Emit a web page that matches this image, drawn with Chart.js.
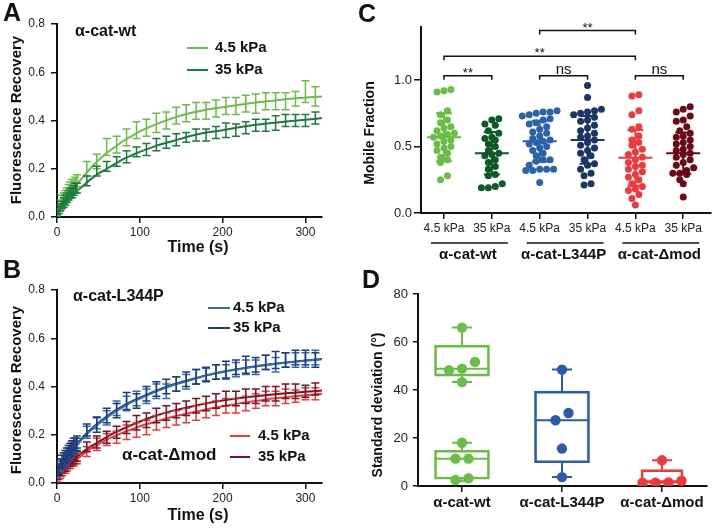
<!DOCTYPE html>
<html><head><meta charset="utf-8">
<script src="https://cdn.jsdelivr.net/npm/chart.js@4.4.1/dist/chart.umd.min.js"></script>
<style>
html,body{margin:0;padding:0;background:#fff}
body{width:715px;height:530px;position:relative;overflow:hidden}
canvas{position:absolute}
</style></head><body>
<canvas id="cA" width="345" height="260" style="left:0px;top:0px"></canvas>
<canvas id="cB" width="345" height="270" style="left:0px;top:260px"></canvas>
<canvas id="cC" width="360" height="266" style="left:355px;top:0px"></canvas>
<canvas id="cD" width="360" height="268" style="left:355px;top:262px"></canvas>
<script>
// ---------------- DATA ----------------
// Panels A/B : FRAP recovery (mean +/- error) and fitted curves
const timeMeas = [0,2,4,6,8,10,12,14,16,18,20,22,24,36,48,60,72,84,96,108,120,132,144,156,168,180,192,204,216,228,240,252,264,276,288,300,312];
const timeFit  = [0,5,10,15,20,25,30,40,50,60,70,80,90,100,120,140,160,180,200,220,240,260,280,300,320];
const timeTicks = [0,100,200,300];

const wt45Mean = [0.02,0.04,0.05,0.07,0.08,0.09,0.10,0.11,0.12,0.13,0.13,0.14,0.15, 0.20,0.23,0.29,0.30,0.33,0.36,0.37,0.39,0.40,0.42,0.43,0.44,0.44,0.45,0.46,0.46,0.47,0.47,0.48,0.48,0.48,0.49,0.52,0.50];
const wt45Err  = [0.015,0.015,0.02,0.02,0.02,0.02,0.02,0.025,0.025,0.025,0.025,0.025,0.025, 0.03,0.03,0.035,0.035,0.035,0.035,0.035,0.04,0.035,0.035,0.035,0.035,0.035,0.035,0.035,0.035,0.035,0.04,0.035,0.035,0.035,0.03,0.045,0.04];
const wt35Mean = [0.02,0.03,0.04,0.05,0.06,0.07,0.08,0.09,0.10,0.10,0.11,0.12,0.12, 0.15,0.19,0.21,0.23,0.25,0.27,0.28,0.30,0.31,0.32,0.33,0.34,0.34,0.35,0.36,0.36,0.37,0.38,0.38,0.39,0.40,0.40,0.40,0.41];
const wt35Err  = [0.01,0.015,0.015,0.015,0.02,0.02,0.02,0.02,0.02,0.02,0.02,0.02,0.02, 0.02,0.02,0.02,0.02,0.025,0.02,0.025,0.025,0.025,0.025,0.02,0.025,0.025,0.025,0.03,0.025,0.025,0.025,0.025,0.03,0.025,0.025,0.025,0.025];
const wt45Fit  = [0.01,0.04,0.065,0.09,0.115,0.14,0.16,0.20,0.235,0.265,0.29,0.315,0.335,0.355,0.385,0.41,0.43,0.445,0.455,0.465,0.475,0.482,0.49,0.495,0.50];
const wt35Fit  = [0.01,0.03,0.05,0.07,0.09,0.11,0.125,0.155,0.18,0.20,0.22,0.24,0.255,0.27,0.295,0.315,0.335,0.35,0.36,0.372,0.382,0.39,0.397,0.403,0.41];

const lp45Mean = [0.04,0.06,0.07,0.08,0.09,0.10,0.11,0.12,0.13,0.14,0.15,0.15,0.16, 0.21,0.25,0.27,0.31,0.33,0.35,0.36,0.38,0.38,0.41,0.42,0.44,0.45,0.46,0.46,0.47,0.48,0.48,0.50,0.49,0.51,0.51,0.51,0.52];
const lp45Err  = [0.02,0.02,0.02,0.02,0.025,0.025,0.025,0.025,0.025,0.025,0.025,0.025,0.025, 0.025,0.025,0.03,0.03,0.03,0.03,0.03,0.03,0.03,0.03,0.03,0.03,0.025,0.03,0.03,0.03,0.03,0.03,0.03,0.03,0.03,0.03,0.03,0.03];
const lp35Mean = [0.05,0.06,0.08,0.09,0.10,0.11,0.12,0.13,0.14,0.15,0.16,0.16,0.17, 0.22,0.24,0.28,0.30,0.34,0.34,0.37,0.39,0.40,0.41,0.43,0.44,0.45,0.46,0.47,0.48,0.49,0.49,0.50,0.51,0.51,0.52,0.52,0.51];
const lp35Err  = [0.02,0.02,0.02,0.025,0.025,0.025,0.025,0.025,0.025,0.025,0.025,0.025,0.025, 0.025,0.03,0.03,0.03,0.035,0.03,0.03,0.03,0.03,0.03,0.03,0.03,0.03,0.03,0.035,0.03,0.035,0.03,0.03,0.035,0.03,0.03,0.03,0.03];
const lp45Fit  = [0.04,0.07,0.095,0.12,0.14,0.16,0.18,0.215,0.245,0.27,0.295,0.315,0.335,0.35,0.38,0.405,0.425,0.445,0.46,0.472,0.483,0.492,0.50,0.507,0.513];
const lp35Fit  = [0.05,0.075,0.10,0.125,0.145,0.165,0.185,0.22,0.25,0.275,0.30,0.32,0.338,0.354,0.383,0.408,0.428,0.446,0.461,0.473,0.484,0.493,0.501,0.508,0.514];

const dm45Mean = [0.02,0.03,0.04,0.05,0.06,0.06,0.07,0.08,0.08,0.09,0.09,0.10,0.10, 0.13,0.16,0.18,0.19,0.21,0.22,0.23,0.25,0.26,0.27,0.28,0.29,0.30,0.31,0.32,0.32,0.33,0.34,0.35,0.35,0.36,0.36,0.37,0.37];
const dm45Err  = [0.015,0.015,0.02,0.02,0.02,0.02,0.02,0.02,0.02,0.02,0.02,0.02,0.02, 0.02,0.025,0.025,0.025,0.03,0.03,0.03,0.03,0.03,0.03,0.03,0.03,0.03,0.03,0.03,0.03,0.03,0.03,0.03,0.03,0.03,0.025,0.025,0.025,0.025];
const dm35Mean = [0.03,0.05,0.05,0.06,0.07,0.07,0.08,0.09,0.09,0.10,0.10,0.11,0.11, 0.15,0.17,0.19,0.21,0.23,0.25,0.26,0.28,0.29,0.30,0.31,0.32,0.33,0.34,0.35,0.35,0.36,0.36,0.37,0.37,0.38,0.38,0.38,0.39];
const dm35Err  = [0.015,0.015,0.02,0.02,0.02,0.02,0.02,0.02,0.02,0.02,0.02,0.02,0.02, 0.02,0.025,0.025,0.025,0.025,0.03,0.03,0.03,0.03,0.03,0.03,0.03,0.03,0.03,0.03,0.03,0.03,0.03,0.03,0.03,0.03,0.03,0.025,0.025];
const dm45Fit  = [0.02,0.04,0.06,0.075,0.09,0.10,0.115,0.14,0.16,0.18,0.195,0.21,0.222,0.235,0.255,0.275,0.29,0.305,0.318,0.33,0.34,0.35,0.357,0.364,0.37];
const dm35Fit  = [0.03,0.05,0.065,0.08,0.095,0.11,0.125,0.15,0.17,0.19,0.21,0.225,0.24,0.255,0.28,0.30,0.315,0.33,0.342,0.352,0.36,0.367,0.373,0.378,0.383];

// Panel C : mobile fraction (individual cells), mean and SD
const stiffLabels = ['4.5 kPa','35 kPa','4.5 kPa','35 kPa','4.5 kPa','35 kPa'];
const groupNames  = ['α-cat-wt','α-cat-L344P','α-cat-Δmod'];
const mfWt45  = [0.93,0.92,0.91,0.77,0.74,0.70,0.68,0.65,0.64,0.62,0.60,0.59,0.58,0.57,0.55,0.54,0.52,0.50,0.49,0.47,0.45,0.42,0.40,0.38,0.28,0.25];
const mfWt35  = [0.71,0.70,0.67,0.66,0.62,0.60,0.57,0.56,0.55,0.52,0.50,0.47,0.45,0.44,0.43,0.40,0.38,0.35,0.33,0.29,0.28,0.22,0.20,0.19,0.19];
const mfLp45  = [0.77,0.76,0.76,0.75,0.74,0.73,0.71,0.70,0.68,0.67,0.65,0.63,0.61,0.60,0.58,0.56,0.55,0.54,0.53,0.52,0.50,0.49,0.47,0.45,0.43,0.40,0.40,0.39,0.36,0.33,0.33,0.33,0.32,0.32,0.23];
const mfLp35  = [0.96,0.87,0.78,0.77,0.76,0.75,0.74,0.72,0.70,0.69,0.66,0.64,0.62,0.60,0.58,0.57,0.55,0.53,0.51,0.49,0.47,0.45,0.43,0.40,0.37,0.36,0.33,0.30,0.28,0.22,0.21];
const mfDm45  = [0.89,0.88,0.77,0.74,0.65,0.63,0.58,0.55,0.53,0.51,0.48,0.46,0.44,0.42,0.40,0.38,0.36,0.35,0.33,0.31,0.29,0.27,0.25,0.22,0.20,0.18,0.17,0.14,0.11,0.06];
const mfDm35  = [0.80,0.78,0.76,0.73,0.70,0.69,0.65,0.62,0.60,0.58,0.57,0.55,0.53,0.52,0.50,0.48,0.47,0.45,0.44,0.42,0.40,0.38,0.36,0.34,0.32,0.30,0.30,0.29,0.25,0.22,0.12];
const mfMean  = [0.57,0.45,0.54,0.55,0.415,0.45];
const mfSD    = [0.18,0.16,0.155,0.18,0.21,0.155];
const sigFrom = [1,3,5,1,3];
const sigTo   = [2,4,6,5,5];
const sigLevel= [1.033,1.033,1.033,1.18,1.373];
const sigText = ['**','ns','ns','**','**'];

// Panel D : standard deviation of orientation, box plots
const sdPtsWt   = [66,51.7,48.9,48.2,43.3,18,11.4,11.4,3.2,2.5];
const sdPtsLp   = [48.5,30.4,27.4,15.6,3.7];
const sdPtsDm   = [10.7,2.2,1.5,1.4,1.4];
const boxGroup  = [0,0,1,2];
const boxQ1     = [45.8,2.8,9.7,1.4];
const boxMedian = [48.9,11.4,27.4,1.5];
const boxQ3     = [58.7,14.9,39.5,6.8];
const boxLow    = [43.3,2.0,3.7,1.4];
const boxHigh   = [66,18,48.5,10.7];

// ---------------- STYLE ----------------
const FONT = '"Liberation Sans", Arial, Helvetica, sans-serif';
Chart.defaults.font.family = FONT;
Chart.defaults.color = '#222';
Chart.defaults.animation = false;
Chart.defaults.events = [];
Chart.defaults.plugins.legend.display = false;
Chart.defaults.plugins.tooltip.enabled = false;

const C_LG='#6abd45', C_DG='#1b7b3f', C_DG2='#0c5a2a';
const C_BL='#2e6db4', C_NV='#1d3c78', C_RD='#ed3a3a', C_DR='#7a1220';
const C_BL2='#2b62ae', C_NV2='#1c3566', C_RD2='#ec3b3d', C_DR2='#6b0a16';
const colorsC=[C_LG,C_DG2,C_BL2,C_NV2,C_RD2,C_DR2];
const colorsD=[C_LG,'#2a5ca8','#ea3a3e'];

function grid(len){return {drawOnChartArea:false,drawTicks:true,tickLength:len,color:'#111',lineWidth:1.5};}
const border={display:true,color:'#111',width:2};

const deco={id:'deco',afterDraw(chart,args,opts){
  const ctx=chart.ctx;
  (opts.items||[]).forEach(it=>{
    ctx.save();
    if(it.line){ctx.strokeStyle=it.color;ctx.lineWidth=it.w||2;ctx.beginPath();ctx.moveTo(it.line[0],it.line[1]);ctx.lineTo(it.line[2],it.line[3]);ctx.stroke();}
    else{ctx.font=it.font;ctx.fillStyle=it.color||'#111';ctx.textAlign=it.align||'left';ctx.textBaseline=it.base||'middle';
      ctx.translate(it.x,it.y);if(it.rot)ctx.rotate(it.rot);ctx.fillText(it.t,0,0);}
    ctx.restore();
  });
}};

const errPlugin={id:'errbars',afterDatasetsDraw(chart){
  const ctx=chart.ctx,xs=chart.scales.x,ys=chart.scales.y,a=chart.chartArea;
  ctx.save();ctx.beginPath();ctx.rect(a.left,a.top-10,a.right-a.left+5,a.bottom-a.top+10);ctx.clip();
  chart.data.datasets.forEach(ds=>{
    if(!ds.errs)return;
    ctx.strokeStyle=ds.borderColor;ctx.lineWidth=1.5;
    ds.data.forEach((p,j)=>{
      const x=xs.getPixelForValue(p.x),y1=ys.getPixelForValue(p.y-ds.errs[j]),y2=ys.getPixelForValue(p.y+ds.errs[j]);
      ctx.beginPath();ctx.moveTo(x,y1);ctx.lineTo(x,y2);
      ctx.moveTo(x-4,y1);ctx.lineTo(x+4,y1);ctx.moveTo(x-4,y2);ctx.lineTo(x+4,y2);ctx.stroke();
    });
  });
  ctx.restore();
}};

function curveChart(id,series,pad,xh,items){
  const datasets=[];
  series.forEach(s=>{
    datasets.push({type:'scatter',data:timeMeas.map((t,i)=>({x:t,y:s.mean[i]})),errs:s.err,borderColor:s.color,backgroundColor:s.color,pointRadius:0});
    datasets.push({type:'line',data:timeFit.map((t,i)=>({x:t,y:s.fit[i]})),borderColor:s.color,borderWidth:2,pointRadius:0,cubicInterpolationMode:'monotone',fill:false});
  });
  new Chart(document.getElementById(id),{type:'scatter',data:{datasets},plugins:[errPlugin,deco],
    options:{responsive:false,layout:{padding:pad},
      scales:{
        x:{type:'linear',min:0,max:320,afterBuildTicks:s=>{s.ticks=timeTicks.map(v=>({value:v}));},afterFit:s=>{s.height=xh;},
           ticks:{autoSkip:false,font:{size:12},color:'#222',padding:2,maxRotation:0},grid:grid(6),border},
        y:{min:0,max:0.8,afterFit:s=>{s.width=57;},ticks:{stepSize:0.2,callback:v=>v.toFixed(1),font:{size:12},color:'#222',padding:6},grid:grid(6),border}
      },
      plugins:{deco:{items}}}});
}

const fB15='bold 15px '+FONT, fB16='bold 16px '+FONT, fL='bold 25px '+FONT;
curveChart('cA',[
  {mean:wt45Mean,err:wt45Err,fit:wt45Fit,color:C_LG},
  {mean:wt35Mean,err:wt35Err,fit:wt35Fit,color:C_DG}],
  {top:24,right:23,left:0,bottom:0},43,[
  {t:'A',x:3,y:21,font:fL,base:'alphabetic'},
  {t:'α-cat-wt',x:75,y:32,font:fB16},
  {line:[187,48,208,48],color:C_LG,w:2},{line:[187,70,208,70],color:C_DG,w:2},
  {t:'4.5 kPa',x:215,y:48,font:fB15},{t:'35 kPa',x:215,y:70,font:fB15},
  {t:'Fluorescence Recovery',x:17,y:120,rot:-Math.PI/2,align:'center',font:fB15},
  {t:'Time (s)',x:198,y:248,align:'center',font:fB16}]);

curveChart('cB',[
  {mean:dm45Mean,err:dm45Err,fit:dm45Fit,color:C_RD},
  {mean:dm35Mean,err:dm35Err,fit:dm35Fit,color:C_DR},
  {mean:lp45Mean,err:lp45Err,fit:lp45Fit,color:C_BL},
  {mean:lp35Mean,err:lp35Err,fit:lp35Fit,color:C_NV}],
  {top:30,right:23,left:0,bottom:0},47,[
  {t:'B',x:3,y:18,font:fL,base:'alphabetic'},
  {t:'α-cat-L344P',x:73,y:37,font:fB16},
  {line:[208,48,230,48],color:C_BL,w:2},{line:[208,68,230,68],color:C_NV,w:2},
  {t:'4.5 kPa',x:233,y:48,font:fB15},{t:'35 kPa',x:233,y:68,font:fB15},
  {line:[230,176,250,176],color:C_RD,w:2},{line:[230,197,250,197],color:C_DR,w:2},
  {t:'4.5 kPa',x:258,y:176,font:fB15},{t:'35 kPa',x:258,y:197,font:fB15},
  {t:'α-cat-Δmod',x:122,y:195,font:'bold 17px '+FONT},
  {t:'Fluorescence Recovery',x:17,y:130,rot:-Math.PI/2,align:'center',font:fB15},
  {t:'Time (s)',x:198,y:256,align:'center',font:fB16}]);

// scatter-dot layout: points grouped into rows one dot high, laid side by side (computed from the values)
function rows(vals,center,pxX,pxY,r){
  const sorted=vals.slice().sort((a,b)=>b-a);
  const out=[];let i=0;
  while(i<sorted.length){
    const top=sorted[i];const row=[];
    while(i<sorted.length && (top-sorted[i])*pxY<2*r-0.5){row.push(sorted[i]);i++;}
    row.reverse();
    row.forEach((v,j)=>out.push({x:center+((j-(row.length-1)/2)*2*r)/pxX,y:v}));
  }
  return out;
}

// Panel C
const cGroups=[mfWt45,mfWt35,mfLp45,mfLp35,mfDm45,mfDm35];
const cPlugin={id:'cextra',afterDatasetsDraw(chart){
  const ctx=chart.ctx,xs=chart.scales.x,ys=chart.scales.y;
  ctx.save();
  mfMean.forEach((m,i)=>{
    const x=xs.getPixelForValue(i+1),ym=ys.getPixelForValue(m),yl=ys.getPixelForValue(m-mfSD[i]),yh=ys.getPixelForValue(m+mfSD[i]);
    ctx.strokeStyle=colorsC[i];ctx.lineWidth=2;ctx.beginPath();
    ctx.moveTo(x-17,ym);ctx.lineTo(x+17,ym);
    ctx.moveTo(x,yl);ctx.lineTo(x,yh);
    ctx.moveTo(x-8,yl);ctx.lineTo(x+8,yl);ctx.moveTo(x-8,yh);ctx.lineTo(x+8,yh);ctx.stroke();
  });
  ctx.strokeStyle='#111';ctx.lineWidth=1.5;ctx.fillStyle='#111';ctx.textAlign='center';ctx.textBaseline='alphabetic';
  sigFrom.forEach((f,k)=>{
    const x1=xs.getPixelForValue(f),x2=xs.getPixelForValue(sigTo[k]),y=ys.getPixelForValue(sigLevel[k]);
    ctx.beginPath();ctx.moveTo(x1,y+4);ctx.lineTo(x1,y);ctx.lineTo(x2,y);ctx.lineTo(x2,y+4);ctx.stroke();
    if(sigText[k]==='ns'){ctx.font='15px '+FONT;ctx.fillText('ns',(x1+x2)/2,y-2);}
    else{ctx.font='13px '+FONT;ctx.fillText('**',(x1+x2)/2,y+1);}
  });
  groupNames.forEach((g,i)=>{
    const x1=xs.getPixelForValue(2*i+1),x2=xs.getPixelForValue(2*i+2);
    ctx.beginPath();ctx.moveTo(x1-13,243);ctx.lineTo(x2+16,243);ctx.stroke();
    ctx.font='bold 15px '+FONT;ctx.textBaseline='middle';ctx.fillText(g,(x1+x2)/2,255);ctx.textBaseline='alphabetic';
  });
  ctx.restore();
}};
new Chart(document.getElementById('cC'),{type:'scatter',
  data:{datasets:cGroups.map((g,i)=>({data:rows(g,i+1,48.2,132.9,3.5),backgroundColor:colorsC[i],borderWidth:0,pointRadius:3.5}))},
  plugins:[cPlugin,deco],
  options:{responsive:false,layout:{padding:{top:27,right:2,left:0,bottom:0}},
    scales:{
      x:{type:'linear',min:0.52,max:6.58,afterBuildTicks:s=>{s.ticks=[1,2,3,4,5,6].map(v=>({value:v}));},afterFit:s=>{s.height=53;},
         ticks:{autoSkip:false,maxRotation:0,callback:(v,i)=>stiffLabels[i],font:{size:12},color:'#222',padding:2},grid:grid(6),border},
      y:{min:0,max:1.4,afterBuildTicks:s=>{s.ticks=s.ticks.filter(t=>t.value<=1.0001);},afterFit:s=>{s.width=66;},
         ticks:{stepSize:0.5,callback:v=>v.toFixed(1),font:{size:13},color:'#222',padding:2},grid:grid(7),border}
    },
    plugins:{deco:{items:[
      {t:'C',x:3,y:22,font:fL,base:'alphabetic'},
      {t:'Mobile Fraction',x:15,y:133,rot:-Math.PI/2,align:'center',font:'bold 14px '+FONT}]}}}});

// Panel D
const boxWidth=[55,55,55,42];
const dPlugin={id:'dextra',beforeDatasetsDraw(chart){
  const ctx=chart.ctx,xs=chart.scales.x,ys=chart.scales.y;
  ctx.save();ctx.lineWidth=2;
  boxGroup.forEach((g,i)=>{
    const x=xs.getPixelForValue(g),w=boxWidth[i];
    ctx.strokeStyle=colorsD[g];ctx.beginPath();
    const ym=ys.getPixelForValue(boxMedian[i]);ctx.moveTo(x-w/2,ym);ctx.lineTo(x+w/2,ym);
    const yq3=ys.getPixelForValue(boxQ3[i]),yh=ys.getPixelForValue(boxHigh[i]);
    ctx.moveTo(x,yq3);ctx.lineTo(x,yh);ctx.moveTo(x-10,yh);ctx.lineTo(x+10,yh);
    const yq1=ys.getPixelForValue(boxQ1[i]),yl=ys.getPixelForValue(boxLow[i]);
    ctx.moveTo(x,yq1);ctx.lineTo(x,yl);ctx.moveTo(x-10,yl);ctx.lineTo(x+10,yl);
    ctx.stroke();
  });
  ctx.restore();
}};
const dDatasets=boxGroup.map((g,i)=>({type:'bar',data:[{x:g,y:[boxQ1[i],boxQ3[i]]}],backgroundColor:'rgba(0,0,0,0)',
  borderColor:colorsD[g],borderWidth:2,borderSkipped:false,barThickness:boxWidth[i],grouped:false,order:5}));
[sdPtsWt,sdPtsLp,sdPtsDm].forEach((p,g)=>dDatasets.push({type:'scatter',data:rows(p,g,100,2.4,6.5),backgroundColor:colorsD[g],borderWidth:0,pointRadius:5.2,order:1}));
new Chart(document.getElementById('cD'),{type:'bar',data:{datasets:dDatasets},plugins:[dPlugin,deco],
  options:{responsive:false,layout:{padding:{top:32,right:8,left:0,bottom:0}},
    scales:{
      x:{type:'linear',offset:false,min:-0.44,max:2.45,afterBuildTicks:s=>{s.ticks=[0,1,2].map(v=>({value:v}));},afterFit:s=>{s.height=44;},
         ticks:{autoSkip:false,maxRotation:0,callback:(v,i)=>groupNames[i],font:{size:15,weight:'bold'},color:'#111',padding:2},grid:Object.assign(grid(6),{offset:false}),border},
      y:{min:0,max:80,afterFit:s=>{s.width=63;},ticks:{stepSize:20,font:{size:13},color:'#222',padding:5},grid:grid(5),border}
    },
    plugins:{deco:{items:[
      {t:'D',x:7,y:26,font:fL,base:'alphabetic'},
      {t:'Standard deviation (°)',x:23,y:143,rot:-Math.PI/2,align:'center',font:'bold 14px '+FONT}]}}}});
</script>
</body></html>
